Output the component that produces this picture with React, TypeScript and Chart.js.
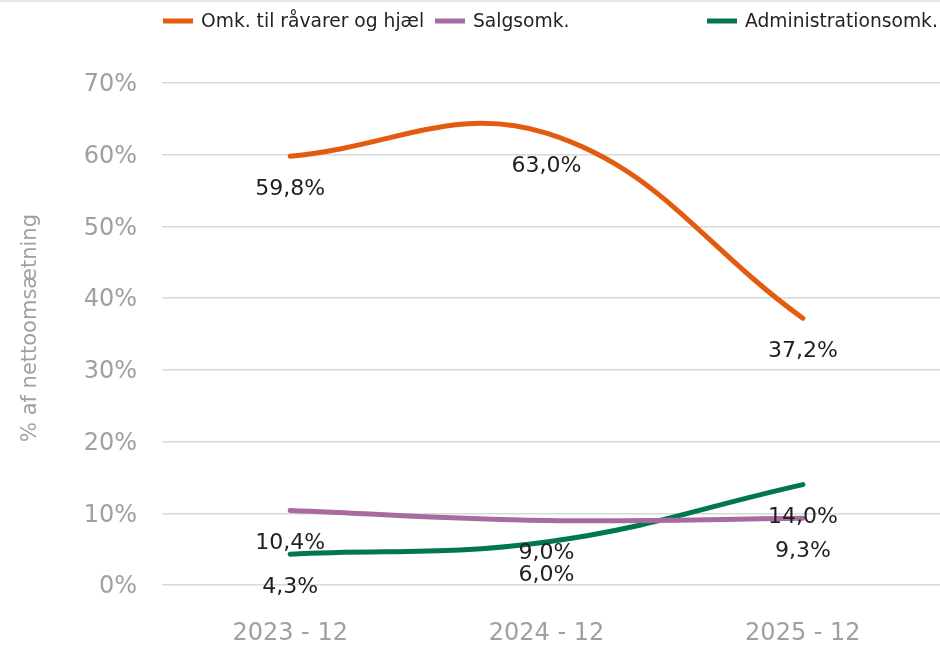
import React, { useEffect, useRef } from "react";
import { Chart, registerables } from "chart.js";

Chart.register(...registerables);

const categories = ["2023 - 12", "2024 - 12", "2025 - 12"];
const seriesNames = ["Omk. til råvarer og hjæl", "Salgsomk.", "Administrationsomk."];
const rawMaterialCosts = [59.8, 63.0, 37.2];
const salesCosts = [10.4, 9.0, 9.3];
const adminCosts = [4.3, 6.0, 14.0];
const seriesColors = ["#E35B0E", "#A86B9F", "#00784A"];
const yTickValues = [0, 10, 20, 30, 40, 50, 60, 70];
const yAxisTitle = "% af nettoomsætning";

const FONT = '"DejaVu Sans", Verdana, sans-serif';

const fmt = (v: number) => v.toFixed(1).replace(".", ",") + "%";

const decorPlugin = {
  id: "decor",
  beforeDraw(chart: any) {
    const ctx = chart.ctx;
    ctx.save();
    ctx.fillStyle = "#e6e6e6";
    ctx.fillRect(0, 0, chart.width, 2);
    // legend
    const legendX = [163, 435, 707];
    const ly = 21;
    ctx.font = `18.7px ${FONT}`;
    ctx.textBaseline = "middle";
    ctx.textAlign = "left";
    chart.data.datasets.forEach((ds: any, i: number) => {
      const x = legendX[i];
      ctx.strokeStyle = ds.borderColor;
      ctx.lineWidth = 5;
      ctx.lineCap = "butt";
      ctx.beginPath();
      ctx.moveTo(x, ly);
      ctx.lineTo(x + 30, ly);
      ctx.stroke();
      ctx.fillStyle = "#252423";
      ctx.fillText(ds.label, x + 38, ly + 1);
    });
    // y axis title
    ctx.save();
    ctx.translate(31, 328);
    ctx.rotate(-Math.PI / 2);
    ctx.font = `21px ${FONT}`;
    ctx.fillStyle = "#a0a0a0";
    ctx.textAlign = "center";
    ctx.textBaseline = "middle";
    ctx.fillText(yAxisTitle, 0, 0);
    ctx.restore();
    ctx.restore();
  },
  afterDatasetsDraw(chart: any) {
    const ctx = chart.ctx;
    ctx.save();
    ctx.font = `22px ${FONT}`;
    ctx.textAlign = "center";
    ctx.textBaseline = "middle";
    ctx.fillStyle = "#1f1f1f";
    chart.data.datasets.forEach((ds: any, i: number) => {
      const meta = chart.getDatasetMeta(i);
      meta.data.forEach((pt: any, j: number) => {
        const v = ds.data[j].y;
        ctx.fillText(fmt(v), pt.x, pt.y + 33);
      });
    });
    ctx.restore();
  },
};

export default function App() {
  const ref = useRef<HTMLCanvasElement | null>(null);

  useEffect(() => {
    document.body.style.margin = "0";
    if (!ref.current) return;
    const series = [rawMaterialCosts, salesCosts, adminCosts];
    const chart = new Chart(ref.current, {
      type: "line",
      data: {
        datasets: series.map((vals, i) => ({
          label: seriesNames[i],
          data: vals.map((v, j) => ({ x: j, y: v })),
          borderColor: seriesColors[i],
          backgroundColor: seriesColors[i],
          borderWidth: 5,
          borderCapStyle: "round" as const,
          pointRadius: 0,
          tension: 0.4,
          fill: false,
        })),
      },
      options: {
        animation: false,
        responsive: true,
        maintainAspectRatio: false,
        layout: { padding: { top: 83, left: 0, right: 0, bottom: 0 } },
        plugins: {
          legend: { display: false },
          tooltip: { enabled: false },
        },
        scales: {
          x: {
            type: "linear",
            min: -0.5,
            max: 2.535,
            grid: { display: false, drawTicks: false },
            border: { display: false },
            afterBuildTicks: (scale: any) => {
              scale.ticks = categories.map((_, i) => ({ value: i }));
            },
            afterFit: (scale: any) => {
              scale.height = 61;
            },
            ticks: {
              autoSkip: false,
              maxRotation: 0,
              padding: 34,
              color: "#a0a0a0",
              font: { family: FONT, size: 24 },
              callback: (v: any) => categories[Number(v)] ?? "",
            },
          },
          y: {
            min: 0,
            max: 70,
            afterBuildTicks: (scale: any) => {
              scale.ticks = yTickValues.map((v) => ({ value: v }));
            },
            afterFit: (scale: any) => {
              scale.width = 162;
            },
            grid: { color: "#d9d9d9", lineWidth: 1.5, drawTicks: false },
            border: { display: false },
            ticks: {
              padding: 25,
              labelOffset: 2,
              color: "#a0a0a0",
              font: { family: FONT, size: 24 },
              callback: (v: any) => v + "%",
            },
            title: { display: false },
          },
        },
      },
      plugins: [decorPlugin],
    });
    return () => chart.destroy();
  }, []);

  return (
    <div style={{ width: 940, height: 646, position: "relative" }}>
      <canvas ref={ref} />
    </div>
  );
}
